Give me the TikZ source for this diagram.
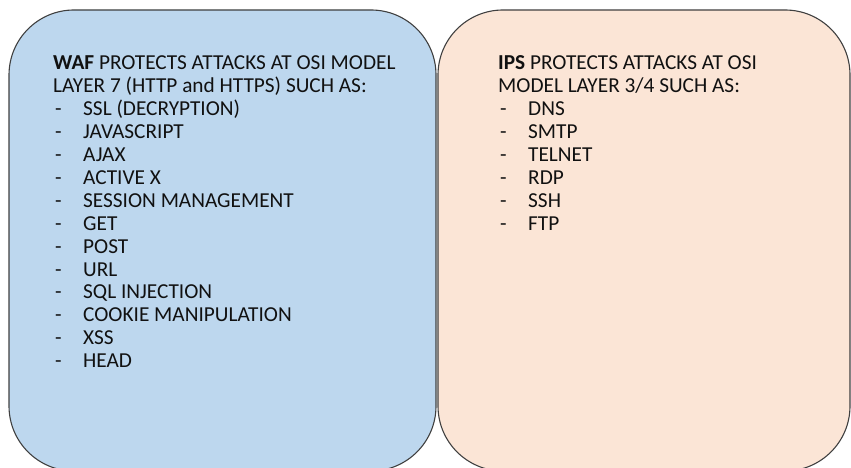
\documentclass[tikz,border=0pt]{standalone}
\usepackage{fontspec}
\setmainfont{Carlito}
\definecolor{wafblue}{HTML}{BDD7EE}
\definecolor{ipspeach}{HTML}{FBE5D6}
\definecolor{edgegray}{HTML}{404040}
\definecolor{txt}{HTML}{111111}
\tikzset{
  panel/.style={draw=edgegray, line width=1.1pt, rounded corners=65pt},
  txtline/.style={anchor=base west, inner sep=0pt, text=txt, font=\fontsize{21.3}{24}\selectfont},
}
\begin{document}
\begin{tikzpicture}[x=1pt,y=1pt]
\useasboundingbox (0,0) rectangle (851,468);
\begin{scope}
\clip (0,0) rectangle (851,468);
\draw[panel, fill=wafblue] (9,-3) rectangle (436,458);
\draw[panel, fill=ipspeach] (438,-3) rectangle (850,458);
\end{scope}
% left panel
\node[txtline] (w0) at (53,398) {\textbf{WAF} PROTECTS ATTACKS AT OSI MODEL};
\node[txtline] (w1) at (53,375.1) {LAYER 7 (HTTP and HTTPS) SUCH AS:};
\foreach \t [count=\i from 2] in {SSL (DECRYPTION),JAVASCRIPT,AJAX,ACTIVE X,SESSION MANAGEMENT,GET,POST,URL,SQL INJECTION,COOKIE MANIPULATION,XSS,HEAD}{
  \node[txtline] (wd\i) at (55,{398-22.9*\i}) {-};
  \node[txtline] (wi\i) at (83,{398-22.9*\i}) {\t};
}
% right panel
\node[txtline] (p0) at (498,398) {\textbf{IPS} PROTECTS ATTACKS AT OSI};
\node[txtline] (p1) at (498,375.1) {MODEL LAYER 3/4 SUCH AS:};
\foreach \t [count=\i from 2] in {DNS,SMTP,TELNET,RDP,SSH,FTP}{
  \node[txtline] (pd\i) at (500,{398-22.9*\i}) {-};
  \node[txtline] (pi\i) at (528,{398-22.9*\i}) {\t};
}
\end{tikzpicture}
\end{document}
